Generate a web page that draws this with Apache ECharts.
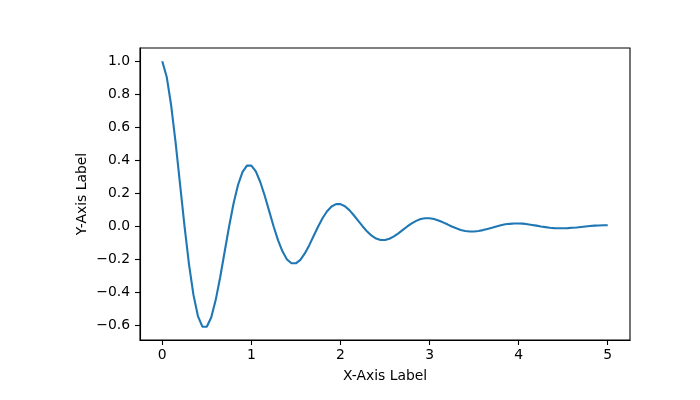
<!DOCTYPE html>
<html>
<head>
<meta charset="utf-8">
<script src="https://cdn.jsdelivr.net/npm/echarts@6/dist/echarts.min.js"></script>
<style>html,body{margin:0;padding:0;background:#fff;}#c{width:700px;height:400px;}</style>
</head>
<body>
<div id="c"></div>
<script>
var xs = [0,0.05,0.1,0.15,0.2,0.25,0.3,0.35,0.4,0.45,0.5,0.55,0.6,0.65,0.7,0.75,0.8,0.85,0.9,0.95,
1,1.05,1.1,1.15,1.2,1.25,1.3,1.35,1.4,1.45,1.5,1.55,1.6,1.65,1.7,1.75,1.8,1.85,1.9,1.95,
2,2.05,2.1,2.15,2.2,2.25,2.3,2.35,2.4,2.45,2.5,2.55,2.6,2.65,2.7,2.75,2.8,2.85,2.9,2.95,
3,3.05,3.1,3.15,3.2,3.25,3.3,3.35,3.4,3.45,3.5,3.55,3.6,3.65,3.7,3.75,3.8,3.85,3.9,3.95,
4,4.05,4.1,4.15,4.2,4.25,4.3,4.35,4.4,4.45,4.5,4.55,4.6,4.65,4.7,4.75,4.8,4.85,4.9,4.95,5];
var ys = [1,0.905,0.732,0.506,0.253,0,-0.229,-0.414,-0.542,-0.606,-0.607,-0.549,-0.444,-0.307,-0.153,0,0.139,0.251,0.329,0.368,
0.368,0.333,0.269,0.186,0.093,0,-0.084,-0.152,-0.2,-0.223,-0.223,-0.202,-0.163,-0.113,-0.056,0,0.051,0.092,0.121,0.135,
0.135,0.122,0.099,0.068,0.034,0,-0.031,-0.056,-0.073,-0.082,-0.082,-0.074,-0.06,-0.042,-0.021,0,0.019,0.034,0.045,0.05,
0.05,0.045,0.036,0.025,0.013,0,-0.011,-0.021,-0.027,-0.03,-0.03,-0.027,-0.022,-0.015,-0.008,0,0.007,0.013,0.016,0.018,
0.018,0.017,0.013,0.009,0.005,0,-0.004,-0.008,-0.01,-0.011,-0.011,-0.01,-0.008,-0.006,-0.003,0,0.003,0.005,0.006,0.007,0.007];
var xTicks = [0,1,2,3,4,5];
var yTicks = [-0.6,-0.4,-0.2,0.0,0.2,0.4,0.6,0.8,1.0];
var xName = 'X-Axis Label';
var yName = 'Y-Axis Label';

var pts = xs.map(function(x,i){return [x, ys[i]];});
var font = 'DejaVu Sans';
var chart = echarts.init(document.getElementById('c'), null, {renderer:'canvas'});
chart.setOption({
  animation:false,
  backgroundColor:'#fff',
  grid:{left:140,right:70,top:48,bottom:60,show:true,borderColor:'#000',borderWidth:1.1,backgroundColor:'transparent'},
  xAxis:{
    type:'value',min:-0.25,max:5.25,
    name:xName,nameLocation:'middle',nameGap:29,nameMoveOverlap:false,
    nameTextStyle:{fontFamily:font,fontSize:13.9,color:'#000'},
    axisLine:{show:true,onZero:false,lineStyle:{color:'#000',width:1.1}},
    axisTick:{show:true,length:5,lineStyle:{color:'#000',width:1.1},customValues:xTicks},
    axisLabel:{show:true,margin:8,fontFamily:font,fontSize:13.9,color:'#000',customValues:xTicks,
      formatter:function(v){return String(Math.round(v));}},
    splitLine:{show:false}
  },
  yAxis:{
    type:'value',min:-0.687,max:1.08,
    name:yName,nameLocation:'middle',nameGap:51,nameRotate:90,nameMoveOverlap:false,
    nameTextStyle:{fontFamily:font,fontSize:13.9,color:'#000'},
    axisLine:{show:true,onZero:false,lineStyle:{color:'#000',width:1.1}},
    axisTick:{show:true,length:5,lineStyle:{color:'#000',width:1.1},customValues:yTicks},
    axisLabel:{show:true,margin:10,fontFamily:font,fontSize:13.9,color:'#000',customValues:yTicks,
      formatter:function(v){return v.toFixed(1).replace('-','\u2212');}},
    splitLine:{show:false}
  },
  series:[{
    type:'line',data:pts,showSymbol:false,symbol:'none',smooth:false,
    lineStyle:{color:'#1f77b4',width:2.1},
    clip:true
  }]
});
</script>
</body>
</html>
